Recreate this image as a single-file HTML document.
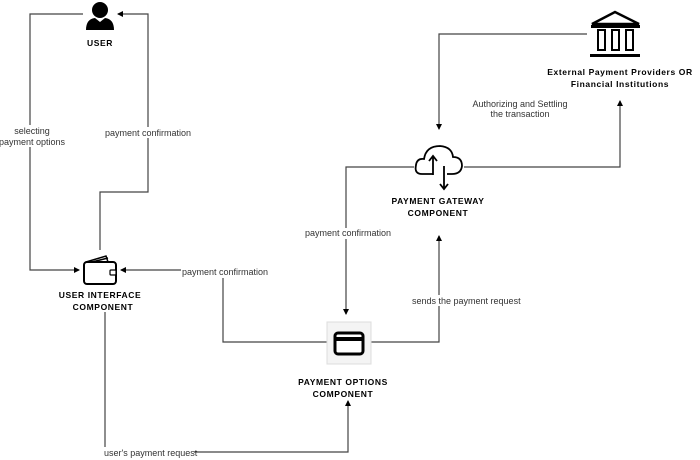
<!DOCTYPE html>
<html><head><meta charset="utf-8"><style>
html,body{margin:0;padding:0;background:#fff;width:700px;height:460px;overflow:hidden}
svg{display:block}
.l{font-family:"Liberation Sans",sans-serif;font-size:9px;fill:#333}
.b{font-family:"Liberation Sans",sans-serif;font-size:8.5px;font-weight:bold;fill:#000;letter-spacing:0.6px}
.c{fill:none;stroke:#444;stroke-width:1.2}
</style></head><body>
<svg width="700" height="460" viewBox="0 0 700 460" xmlns="http://www.w3.org/2000/svg">
<defs><marker id="a" markerWidth="6" markerHeight="6" refX="5" refY="3" orient="auto" markerUnits="userSpaceOnUse"><path d="M0,0 L6,3 L0,6 z" fill="#000"/></marker></defs>
<polyline class="c" points="83,14 30,14 30,270 79,270" marker-end="url(#a)"/>
<polyline class="c" points="100,250 100,192 148,192 148,14 118,14" marker-end="url(#a)"/>
<polyline class="c" points="327,342 223,342 223,278"/>
<polyline class="c" points="181,270 121,270" marker-end="url(#a)"/>
<polyline class="c" points="105,312 105,452 348,452 348,401" marker-end="url(#a)"/>
<polyline class="c" points="371,342 439,342 439,236" marker-end="url(#a)"/>
<polyline class="c" points="414,167 346,167 346,314" marker-end="url(#a)"/>
<polyline class="c" points="464,167 620,167 620,101" marker-end="url(#a)"/>
<polyline class="c" points="587,34 439,34 439,129" marker-end="url(#a)"/>
<rect x="8" y="125" width="48" height="22" fill="#fff"/>
<text class="l" x="32" y="134" text-anchor="middle">selecting</text>
<text class="l" x="32" y="145" text-anchor="middle">payment options</text>
<rect x="106" y="127" width="84" height="11" fill="#fff"/>
<text class="l" x="148" y="136" text-anchor="middle">payment confirmation</text>
<text class="l" x="182" y="275">payment confirmation</text>
<rect x="104" y="447" width="90" height="11" fill="#fff"/>
<text class="l" x="104" y="456">user's payment request</text>
<rect x="410" y="295" width="108" height="11" fill="#fff"/>
<text class="l" x="412" y="304">sends the payment request</text>
<rect x="304" y="228" width="86" height="11" fill="#fff"/>
<text class="l" x="305" y="236">payment confirmation</text>
<text class="l" x="520" y="107" text-anchor="middle">Authorizing and Settling</text>
<text class="l" x="520" y="117" text-anchor="middle">the transaction</text>
<circle cx="100" cy="10" r="8" fill="#000"/>
<path d="M86,30 Q86,19 95,18 L100,22 L105,18 Q114,19 114,30 z" fill="#000"/>
<text class="b" x="100" y="46" text-anchor="middle">USER</text>
<rect x="84" y="262" width="32" height="22" rx="3" fill="#fff" stroke="#000" stroke-width="2"/>
<path d="M86,262 L106,256 L108,262 M92,262 L108,258" stroke="#000" stroke-width="1.5" fill="none"/>
<rect x="110" y="270" width="6" height="5" rx="1" fill="#fff" stroke="#000" stroke-width="1.2"/>
<text class="b" x="100" y="298" text-anchor="middle">USER INTERFACE</text>
<text class="b" x="103" y="310" text-anchor="middle">COMPONENT</text>
<rect x="327" y="322" width="44" height="42" fill="#f4f4f4" stroke="#ddd"/>
<rect x="335" y="333" width="28" height="21" rx="3" fill="#fff" stroke="#000" stroke-width="3"/>
<rect x="335" y="337" width="28" height="4" fill="#000"/>
<text class="b" x="343" y="385" text-anchor="middle">PAYMENT OPTIONS</text>
<text class="b" x="343" y="397" text-anchor="middle">COMPONENT</text>
<path d="M433,174 L422,174 Q414,174 416,165 Q417,158 424,159 Q426,146 440,146 Q452,147 453,157 Q462,157 462,166 Q461,174 452,174 L447,174" fill="none" stroke="#000" stroke-width="1.8"/>
<path d="M433,175 L433,156 M429,161 L433,156 L437,161" fill="none" stroke="#000" stroke-width="1.8"/>
<path d="M444,166 L444,189 M440,184 L444,189 L448,184" fill="none" stroke="#000" stroke-width="1.8"/>
<text class="b" x="438" y="204" text-anchor="middle">PAYMENT GATEWAY</text>
<text class="b" x="438" y="216" text-anchor="middle">COMPONENT</text>
<path d="M592,24 L615,12 L639,24 z" fill="none" stroke="#000" stroke-width="2.5"/>
<rect x="591" y="25" width="49" height="3" fill="#000"/>
<rect x="598" y="30" width="7" height="20" fill="none" stroke="#000" stroke-width="2"/>
<rect x="612" y="30" width="7" height="20" fill="none" stroke="#000" stroke-width="2"/>
<rect x="626" y="30" width="7" height="20" fill="none" stroke="#000" stroke-width="2"/>
<rect x="590" y="54" width="50" height="3" fill="#000"/>
<text class="b" x="620" y="75" text-anchor="middle">External Payment Providers OR</text>
<text class="b" x="620" y="87" text-anchor="middle">Financial Institutions</text>
</svg>
</body></html>
